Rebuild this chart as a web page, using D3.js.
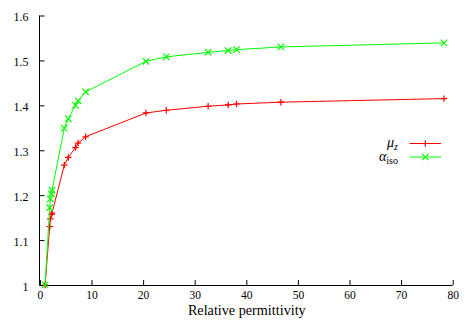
<!DOCTYPE html>
<html><head><meta charset="utf-8">
<script src="https://cdn.jsdelivr.net/npm/d3@7"></script>
<style>body{margin:0;background:#fff}svg{display:block}</style>
</head><body><svg id="c" width="471" height="331"></svg>
<script>
const permittivity = [1, 1.9, 2.02, 2.25, 2.35, 4.73, 5.5, 6.9, 7.4, 8.85, 20.55, 24.5, 32.6, 36.5, 38.1, 46.7, 78.3];
const muZ   = [1.0, 1.130, 1.147, 1.157, 1.160, 1.267, 1.284, 1.306, 1.316, 1.330, 1.383, 1.389, 1.398, 1.401, 1.403, 1.407, 1.415];
const alphaIso = [1.0, 1.172, 1.192, 1.203, 1.211, 1.349, 1.370, 1.400, 1.410, 1.430, 1.498, 1.508, 1.518, 1.522, 1.524, 1.530, 1.539];
const xTicks = [0, 10, 20, 30, 40, 50, 60, 70, 80];
const yTicks = [1, 1.1, 1.2, 1.3, 1.4, 1.5, 1.6];
const seriesNames = ["μ", "α"];
const seriesSubs = ["z", "iso"];
const seriesColors = ["#ff0000", "#00ff00"];
const FONT = "Liberation Serif";

const svg = d3.select("#c");
const x = d3.scaleLinear().domain([0, 80]).range([39.9, 452.7]);
const y = d3.scaleLinear().domain([1, 1.6]).range([285, 15.5]);

const gx = svg.append("g").attr("transform", "translate(0,285)")
  .call(d3.axisBottom(x).tickValues(xTicks).tickSizeInner(-5).tickSizeOuter(0).tickPadding(9).tickFormat(d3.format("d")));
const gy = svg.append("g").attr("transform", "translate(39.5,0)")
  .call(d3.axisLeft(y).tickValues(yTicks).tickSizeInner(-5).tickSizeOuter(0).tickPadding(11).tickFormat(d => d === 1 ? "1" : d3.format(".1f")(d)));
[gx, gy].forEach(g => {
  g.attr("font-family", FONT).attr("font-size", 12);
  g.selectAll("path.domain").attr("stroke", "#000").attr("stroke-width", 1);
  g.selectAll("line").attr("stroke", "#000").attr("stroke-width", 1);
  g.selectAll("text").attr("font-family", FONT).attr("font-size", 12).attr("fill", "#000");
});
gx.selectAll(".tick text").attr("y", 13.8).attr("dy", 0).attr("font-size", 11.5);
gy.selectAll(".tick text").attr("dy", 5);
gx.select("path.domain").attr("d", `M${x(0)-0.4},0.5H${x(80)}`);
gy.select("path.domain").attr("d", `M0,${y(1)}V${y(1.6)}`);

const title = svg.append("text").attr("x", (x(0)+x(80))/2 + 0.5).attr("y", 314.5).attr("text-anchor", "middle")
  .attr("font-family", FONT).attr("font-size", 14).attr("fill", "#000").text("Relative permittivity");
const w = title.node().getComputedTextLength();
if (w > 0) title.attr("font-size", Math.min(14.5, 14 * 118 / w));

const series = [muZ, alphaIso];
const line = d3.line().x((d, i) => x(permittivity[i])).y(d => y(d));
function marker(g, kind, cx, cy, color) {
  const s = 3.2;
  const p = kind === 0
    ? `M${cx-s},${cy}H${cx+s}M${cx},${cy-s}V${cy+s}`
    : `M${cx-s},${cy-s}L${cx+s},${cy+s}M${cx-s},${cy+s}L${cx+s},${cy-s}`;
  g.append("path").attr("d", p).attr("stroke", color).attr("stroke-width", 1.2).attr("fill", "none");
}
series.forEach((vals, k) => {
  const g = svg.append("g");
  g.append("path").datum(vals).attr("d", line).attr("fill", "none")
    .attr("stroke", seriesColors[k]).attr("stroke-width", 1);
  vals.forEach((v, i) => marker(g, k, x(permittivity[i]), y(v), seriesColors[k]));
});

// legend
const legY = [143.5, 157];
series.forEach((vals, k) => {
  const g = svg.append("g");
  g.append("line").attr("x1", 409.5).attr("x2", 441).attr("y1", legY[k]).attr("y2", legY[k])
    .attr("stroke", seriesColors[k]).attr("stroke-width", 1);
  marker(g, k, 425.3, legY[k], seriesColors[k]);
  const t = g.append("text").attr("x", 398).attr("y", legY[k] + 3.5).attr("text-anchor", "end")
    .attr("font-family", FONT).attr("font-size", 14).attr("font-style", "italic").attr("fill", "#000");
  t.append("tspan").text(seriesNames[k]);
  t.append("tspan").attr("dy", 3).attr("font-size", 10).attr("font-style", k === 0 ? "italic" : "normal").text(seriesSubs[k]);
});
</script></body></html>
